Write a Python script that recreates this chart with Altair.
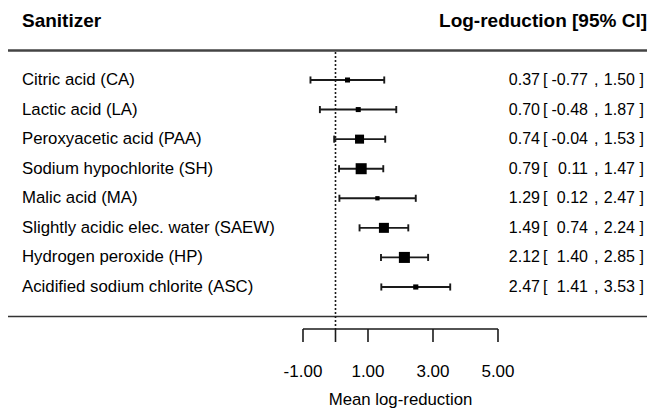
import altair as alt
import pandas as pd

# ---- data ----
sanitizers = [
    "Citric acid (CA)",
    "Lactic acid (LA)",
    "Peroxyacetic acid (PAA)",
    "Sodium hypochlorite (SH)",
    "Malic acid (MA)",
    "Slightly acidic elec. water (SAEW)",
    "Hydrogen peroxide (HP)",
    "Acidified sodium chlorite (ASC)",
]
estimate = [0.37, 0.70, 0.74, 0.79, 1.29, 1.49, 2.12, 2.47]
ci_low = [-0.77, -0.48, -0.04, 0.11, 0.12, 0.74, 1.40, 1.41]
ci_high = [1.50, 1.87, 1.53, 1.47, 2.47, 2.24, 2.85, 3.53]
weights = [8.3, 8.3, 14.9, 18.2, 7.1, 16.5, 18.2, 8.5]  # relative weights (%)
tick_values = [-1, 0, 1, 3, 5]
tick_labels = ["-1.00", "1.00", "3.00", "5.00"]
tick_label_values = [-1, 1, 3, 5]
ref_value = 0

FONT = "Liberation Sans"
W, H = 639, 401

rows = pd.DataFrame({
    "row": list(range(1, len(sanitizers) + 1)),
    "name": sanitizers,
    "est": estimate,
    "lo": ci_low,
    "hi": ci_high,
    "w": weights,
})
rows["est_t"] = rows["est"].map(lambda v: f"{v:.2f}")
rows["lo_t"] = rows["lo"].map(lambda v: f"{v:.2f}")
rows["hi_t"] = rows["hi"].map(lambda v: f"{v:.2f}")
rows["lb"] = "["
rows["cm"] = ","
rows["rb"] = "]"

xs = alt.Scale(domain=[-10.077, 9.585], nice=False, zero=False)
ys = alt.Scale(domain=[-1.435, 12.126], reverse=True, nice=False, zero=False)
Yrow = alt.Y("row:Q", scale=ys, axis=None)

base = alt.Chart(rows)
LINE = "#1a1a1a"

whisk = base.mark_rule(color=LINE, strokeWidth=1.9).encode(
    x=alt.X("lo:Q", scale=xs, axis=None), x2="hi:Q", y=Yrow,
)
caps_base = base.transform_calculate(y1="datum.row - 0.12", y2="datum.row + 0.12")
cap_lo = caps_base.mark_rule(color=LINE, strokeWidth=1.9).encode(
    x=alt.X("lo:Q", scale=xs, axis=None), y=alt.Y("y1:Q", scale=ys, axis=None), y2="y2:Q"
)
cap_hi = caps_base.mark_rule(color=LINE, strokeWidth=1.9).encode(
    x=alt.X("hi:Q", scale=xs, axis=None), y=alt.Y("y1:Q", scale=ys, axis=None), y2="y2:Q"
)

pts = base.transform_calculate(area="pow(datum.w * 0.606, 2)").mark_point(
    shape="square", filled=True, color="black", opacity=1
).encode(
    x=alt.X("est:Q", scale=xs, axis=None),
    y=Yrow,
    size=alt.Size("area:Q", scale=None, legend=None),
)

def txt(field, x, align, size=16.8):
    return base.mark_text(
        align=align, baseline="middle", font=FONT, fontSize=size, color="black"
    ).encode(x=alt.value(x), y=Yrow, text=f"{field}:N")

names = txt("name", 14, "left")
c_est = txt("est_t", 532, "right", 16)
c_lb = txt("lb", 535, "left", 16)
c_lo = txt("lo_t", 580, "right", 16)
c_cm = txt("cm", 586, "left", 16)
c_hi = txt("hi_t", 627, "right", 16)
c_rb = txt("rb", 631.5, "left", 16)

hdr = alt.Chart(pd.DataFrame({"t": ["Sanitizer"], "y": [-0.79]})).mark_text(
    align="left", baseline="alphabetic", font=FONT, fontSize=19, fontWeight="bold", color="black"
).encode(x=alt.value(14), y=alt.Y("y:Q", scale=ys, axis=None), text="t:N")
hdr2 = alt.Chart(pd.DataFrame({"t": ["Log-reduction [95% CI]"], "y": [-0.79]})).mark_text(
    align="right", baseline="alphabetic", font=FONT, fontSize=19, fontWeight="bold", color="black"
).encode(x=alt.value(639), y=alt.Y("y:Q", scale=ys, axis=None), text="t:N")

top_line = alt.Chart(pd.DataFrame({"y": [0.0]})).mark_rule(color="#444", strokeWidth=2.5).encode(
    x=alt.value(0), x2=alt.value(W), y=alt.Y("y:Q", scale=ys, axis=None)
)
bot_line = alt.Chart(pd.DataFrame({"y": [len(sanitizers) + 1]})).mark_rule(
    color="#333", strokeWidth=1.6
).encode(x=alt.value(0), x2=alt.value(W), y=alt.Y("y:Q", scale=ys, axis=None))

ref = alt.Chart(pd.DataFrame({"x": [ref_value], "y1": [0.05], "y2": [9.42]})).mark_rule(
    color=LINE, strokeWidth=1.6, strokeDash=[2, 2]
).encode(x=alt.X("x:Q", scale=xs, axis=None), y=alt.Y("y1:Q", scale=ys, axis=None), y2="y2:Q")

axis_line = alt.Chart(
    pd.DataFrame({"x1": [min(tick_values)], "x2": [max(tick_values)], "y": [9.42]})
).mark_rule(color=LINE, strokeWidth=1.6).encode(
    x=alt.X("x1:Q", scale=xs, axis=None), x2="x2:Q", y=alt.Y("y:Q", scale=ys, axis=None)
)
ticks = alt.Chart(pd.DataFrame({"x": tick_values, "y1": 9.42, "y2": 9.86})).mark_rule(
    color=LINE, strokeWidth=1.6
).encode(x=alt.X("x:Q", scale=xs, axis=None), y=alt.Y("y1:Q", scale=ys, axis=None), y2="y2:Q")
tick_txt = alt.Chart(pd.DataFrame({"x": tick_label_values, "t": tick_labels, "y": 11.04})).mark_text(
    align="center", baseline="alphabetic", font=FONT, fontSize=17, color="black"
).encode(x=alt.X("x:Q", scale=xs, axis=None), y=alt.Y("y:Q", scale=ys, axis=None), text="t:N")
ax_title = alt.Chart(pd.DataFrame({"x": [2], "t": ["Mean log-reduction"], "y": [12.0]})).mark_text(
    align="center", baseline="alphabetic", font=FONT, fontSize=16.8, color="black"
).encode(x=alt.X("x:Q", scale=xs, axis=None), y=alt.Y("y:Q", scale=ys, axis=None), text="t:N")

chart = alt.layer(
    top_line, bot_line, ref, whisk, cap_lo, cap_hi, pts,
    names, c_est, c_lb, c_lo, c_cm, c_hi, c_rb, hdr, hdr2,
    axis_line, ticks, tick_txt, ax_title,
).properties(
    width=W, height=H, autosize=alt.AutoSizeParams(type="none"), padding=0,
    background="white",
).configure_view(stroke=None)

chart.save("out.html", embed_options={"renderer": "svg", "actions": False})
